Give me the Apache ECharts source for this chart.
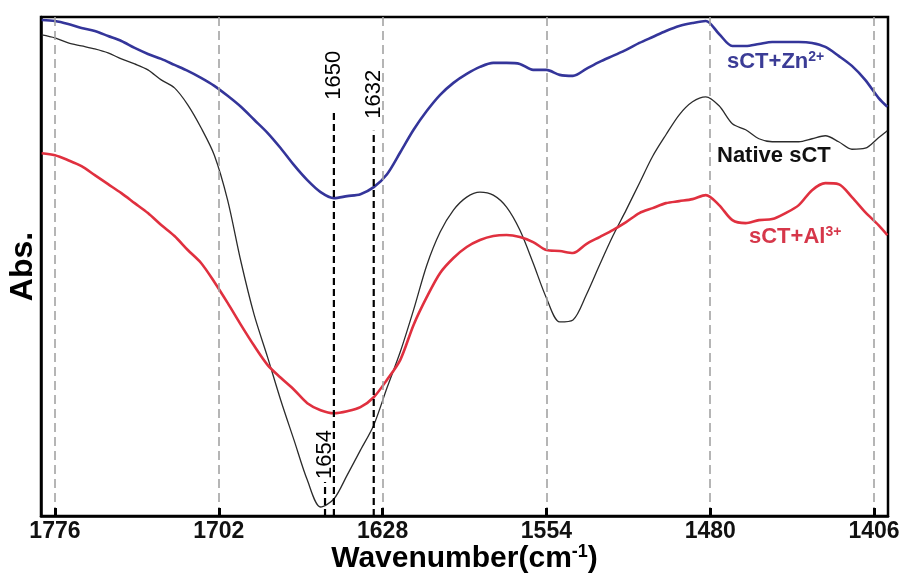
<!DOCTYPE html>
<html>
<head>
<meta charset="utf-8">
<script src="https://cdn.jsdelivr.net/npm/echarts@6/dist/echarts.min.js"></script>
<style>
  html, body { margin: 0; padding: 0; background: #ffffff; }
  #chart { width: 901px; height: 574px; }
</style>
</head>
<body>
<div id="chart"></div>
<script>
// FTIR amide I / II region, absorbance in arbitrary units (offset traces)
const wavenumbers = [1782,1776,1770,1764,1758,1752,1746,1740,1734,1728,1722,1716,1710,1704,1698,1692,1686,1680,1674,1668,1662,1656,1650,1644,1638,1632,1626,1620,1614,1608,1602,1596,1590,1584,1578,1572,1566,1560,1554,1548,1542,1536,1530,1524,1518,1512,1506,1500,1494,1488,1482,1476,1470,1464,1458,1452,1446,1440,1434,1428,1422,1416,1410,1404,1400];

const zincSpectrum = [99.4,99.2,98.6,97.8,97.2,96.2,95.2,93.8,92.6,91.6,90.4,89.2,87.8,86.2,84.2,82.0,79.4,76.8,73.7,70.3,67.3,64.9,63.7,64.1,64.5,65.9,68.5,72.9,77.4,81.2,84.4,86.8,88.6,90.0,90.8,90.8,90.6,89.4,89.4,88.4,88.2,89.6,91.0,92.2,93.4,94.8,96.0,97.2,98.2,98.8,99.2,96.6,94.2,94.2,94.6,95.0,95.0,95.0,94.8,94.0,92.2,90.2,87.4,83.8,82.0];

const nativeSpectrum = [96.4,95.8,94.8,94.2,93.6,92.8,91.6,90.6,89.4,87.4,85.8,82.4,77.8,72.3,63.3,51.0,40.3,31.9,23.2,15.2,7.2,1.8,3.4,8.2,13.2,18.2,25.7,32.9,41.3,50.3,56.9,61.3,63.9,64.9,64.3,61.9,57.3,50.7,43.7,38.9,39.3,44.3,50.3,56.1,61.3,66.7,72.1,76.4,80.4,83.0,84.0,82.2,78.6,77.4,75.6,75.0,75.0,75.0,75.6,76.2,75.0,73.5,73.7,75.8,77.2];

const aluminiumSpectrum = [72.7,72.3,71.3,70.1,68.3,66.5,64.7,62.7,60.7,58.3,56.1,53.3,50.7,46.9,42.7,38.3,34.1,30.3,27.7,25.3,22.6,21.2,20.6,21.0,21.8,23.8,27.3,31.3,38.3,43.9,48.7,51.7,53.9,55.3,56.1,56.3,55.9,54.9,53.3,53.1,52.7,54.5,55.9,57.3,58.9,60.7,61.7,62.7,63.1,63.5,64.3,62.3,59.3,58.7,59.3,59.5,60.7,62.3,65.3,66.7,66.5,63.9,60.9,58.3,56.3];

const tickValues = [1776, 1702, 1628, 1554, 1480, 1406];

// marked band positions and the height each marker line reaches
const bandPositions = [1650, 1632, 1654];
const bandHeights = [81.0, 77.2, 6.8];

const FONT = "'Liberation Sans', Arial, sans-serif";

const pairs = (ys) => wavenumbers.map((w, i) => [w, ys[i]]);

const chart = echarts.init(document.getElementById('chart'), null, { renderer: 'canvas' });

const bandSeries = bandPositions.map((wn, i) => ({
  type: 'line',
  name: 'band-' + wn,
  data: [[wn, 0], [wn, bandHeights[i]]],
  symbol: 'none',
  silent: true,
  z: 4,
  lineStyle: { color: '#000', width: 2.2, type: [7, 4] },
  label: { show: false },
  markPoint: {
    symbol: 'circle',
    symbolSize: 0,
    data: [{ coord: [wn, bandHeights[i]] }],
    label: {
      show: true,
      formatter: String(wn),
      position: 'top',
      distance: i === 2 ? 3 : 12,
      rotate: 90,
      align: 'left',
      verticalAlign: 'middle',
      fontFamily: FONT,
      fontSize: 22,
      color: '#000'
    }
  }
}));

const option = {
  backgroundColor: '#ffffff',
  animation: false,
  grid: {
    left: 41, right: 13, top: 17, bottom: 58,
    containLabel: false,
    outerBoundsMode: 'none',
    show: true, borderColor: '#000', borderWidth: 2.5, backgroundColor: 'transparent'
  },
  xAxis: {
    type: 'value',
    inverse: true,
    min: 1399.7,
    max: 1782.3,
    axisLine: { show: true, lineStyle: { color: '#000', width: 2.5 } },
    axisTick: { show: false },
    axisLabel: {
      show: true, customValues: tickValues, margin: 4,
      formatter: (v) => String(v),
      fontFamily: FONT, fontSize: 23, fontWeight: 'bold', color: '#111'
    },
    splitLine: { show: false },
    name: '{n|Wavenumber(cm}{s|-1}{n|)}',
    nameLocation: 'middle',
    nameGap: 27,
    nameMoveOverlap: false,
    nameTextStyle: {
      rich: {
        n: { fontFamily: FONT, fontSize: 30, fontWeight: 'bold', color: '#000' },
        s: { fontFamily: FONT, fontSize: 18, fontWeight: 'bold', color: '#000', verticalAlign: 'top', padding: [0, 0, 14, 0] }
      }
    }
  },
  yAxis: {
    type: 'value',
    min: 0,
    max: 100,
    axisLine: { show: true, lineStyle: { color: '#000', width: 2.5 } },
    axisTick: { show: false },
    axisLabel: { show: false },
    splitLine: { show: false },
    name: 'Abs.',
    nameLocation: 'middle',
    nameGap: 2,
    nameTextStyle: { fontFamily: FONT, fontSize: 32, fontWeight: 'bold', color: '#000' }
  },
  series: [
    {
      type: 'line',
      name: 'grid-marks',
      data: [],
      silent: true,
      z: 1,
      markLine: {
        silent: true,
        symbol: 'none',
        label: { show: false },
        lineStyle: { color: '#a3a3a3', width: 1.6, type: [9, 5] },
        data: tickValues.map(v => ({ xAxis: v }))
      }
    },
    {
      // short inward tick marks on the wavenumber axis
      type: 'line',
      name: 'axis-ticks',
      data: [],
      silent: true,
      z: 6,
      markLine: {
        silent: true,
        symbol: 'none',
        label: { show: false },
        lineStyle: { color: '#000', width: 3, type: 'solid' },
        data: tickValues.map(v => [{ coord: [v, 0] }, { coord: [v, 1.6] }])
      }
    },
    {
      type: 'line', name: 'sCT+Zn2+', data: pairs(zincSpectrum),
      symbol: 'none', smooth: 0.3, z: 3,
      lineStyle: { color: '#34359a', width: 2.6 }
    },
    {
      type: 'line', name: 'Native sCT', data: pairs(nativeSpectrum),
      symbol: 'none', smooth: 0.3, z: 3,
      lineStyle: { color: '#2b2b2b', width: 1.3 }
    },
    {
      type: 'line', name: 'sCT+Al3+', data: pairs(aluminiumSpectrum),
      symbol: 'none', smooth: 0.3, z: 3,
      lineStyle: { color: '#e0303f', width: 2.6 }
    }
  ].concat(bandSeries),
  graphic: [
    {
      type: 'text', left: 727, top: 50, z: 10,
      style: {
        text: '{b|sCT+Zn}{s|2+}',
        rich: {
          b: { fontFamily: FONT, fontSize: 22, fontWeight: 'bold', fill: '#3b3c96' },
          s: { fontFamily: FONT, fontSize: 14, fontWeight: 'bold', fill: '#3b3c96', verticalAlign: 'top', padding: [0, 0, 10, 0] }
        }
      }
    },
    {
      type: 'text', left: 717, top: 145, z: 10,
      style: { text: 'Native sCT', font: "bold 22px 'Liberation Sans', Arial, sans-serif", fill: '#111' }
    },
    {
      type: 'text', left: 749, top: 225, z: 10,
      style: {
        text: '{b|sCT+Al}{s|3+}',
        rich: {
          b: { fontFamily: FONT, fontSize: 22, fontWeight: 'bold', fill: '#d6374a' },
          s: { fontFamily: FONT, fontSize: 14, fontWeight: 'bold', fill: '#d6374a', verticalAlign: 'top', padding: [0, 0, 10, 0] }
        }
      }
    }
  ]
};

chart.setOption(option);
</script>
</body>
</html>
